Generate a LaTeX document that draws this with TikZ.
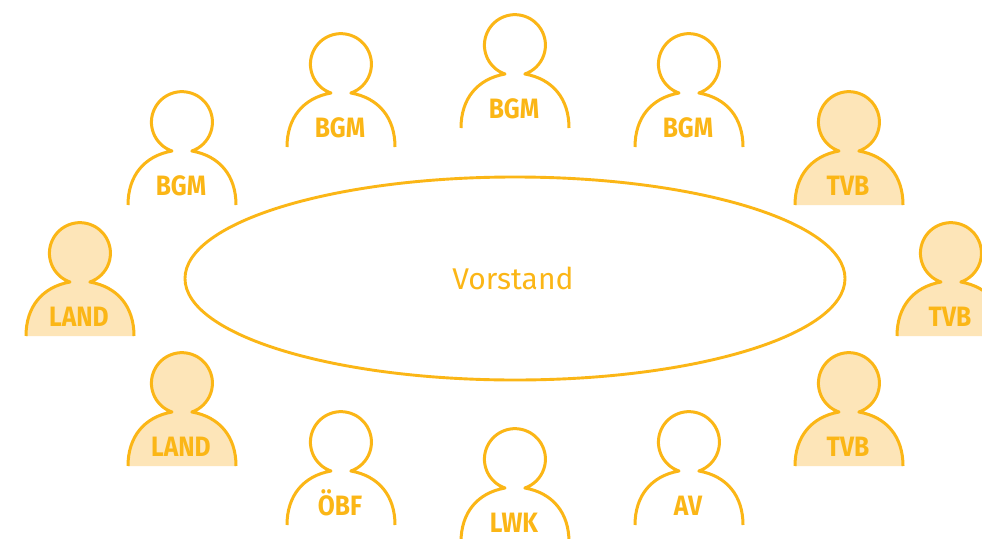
\documentclass[tikz,border=0pt]{standalone}
\usepackage{fontspec}
\usetikzlibrary{shapes.geometric}
\setmainfont{Fira Sans}
\newfontfamily\lblfont[FakeStretch=0.88]{Fira Sans}
\definecolor{strokec}{HTML}{FBB616}
\definecolor{fillc}{HTML}{FDE5B8}
\tikzset{
  x=1pt, y=-1pt,
  lbl/.style={anchor=base, inner sep=0pt, text=strokec, font=\lblfont\bfseries\fontsize{28}{28}\selectfont},
  person/.pic={
    \path[draw=strokec, line width=3pt, line join=round, pic actions]
      (-54,83) .. controls (-54,54) and (-38,34) .. (-10,29)
      arc[start angle=109, end angle=431, radius=30.5]
      .. controls (38,34) and (54,54) .. (54,83);
    \node[lbl] (-lbl) at (-1,73.8) {#1};
  },
  filled/.style={fill=fillc}
}
\begin{document}
\begin{tikzpicture}
\useasboundingbox[fill=white] (0,0) rectangle (982,538);
\node[draw=strokec, line width=2.9pt, ellipse, minimum width=660pt, minimum height=203pt, inner sep=0pt] (table) at (515,278.5) {};
\node[anchor=base, text=strokec, inner sep=0pt, font=\fontsize{30}{30}\selectfont] (vorstand) at (513,289) {Vorstand};
\pic (p1) at (515,45) {person=BGM};
\pic (p2) at (341,64) {person=BGM};
\pic (p3) at (689,64) {person=BGM};
\pic (p4) at (182,122) {person=BGM};
\pic[filled] (p5) at (849,122) {person=TVB};
\pic[filled] (p6) at (80,253) {person=LAND};
\pic[filled] (p7) at (951,253) {person=TVB};
\pic[filled] (p8) at (182,383) {person=LAND};
\pic[filled] (p9) at (849,383) {person=TVB};
\pic (p10) at (341,442) {person=ÖBF};
\pic (p11) at (515,459) {person=LWK};
\pic (p12) at (689,442) {person=AV};
\end{tikzpicture}
\end{document}
